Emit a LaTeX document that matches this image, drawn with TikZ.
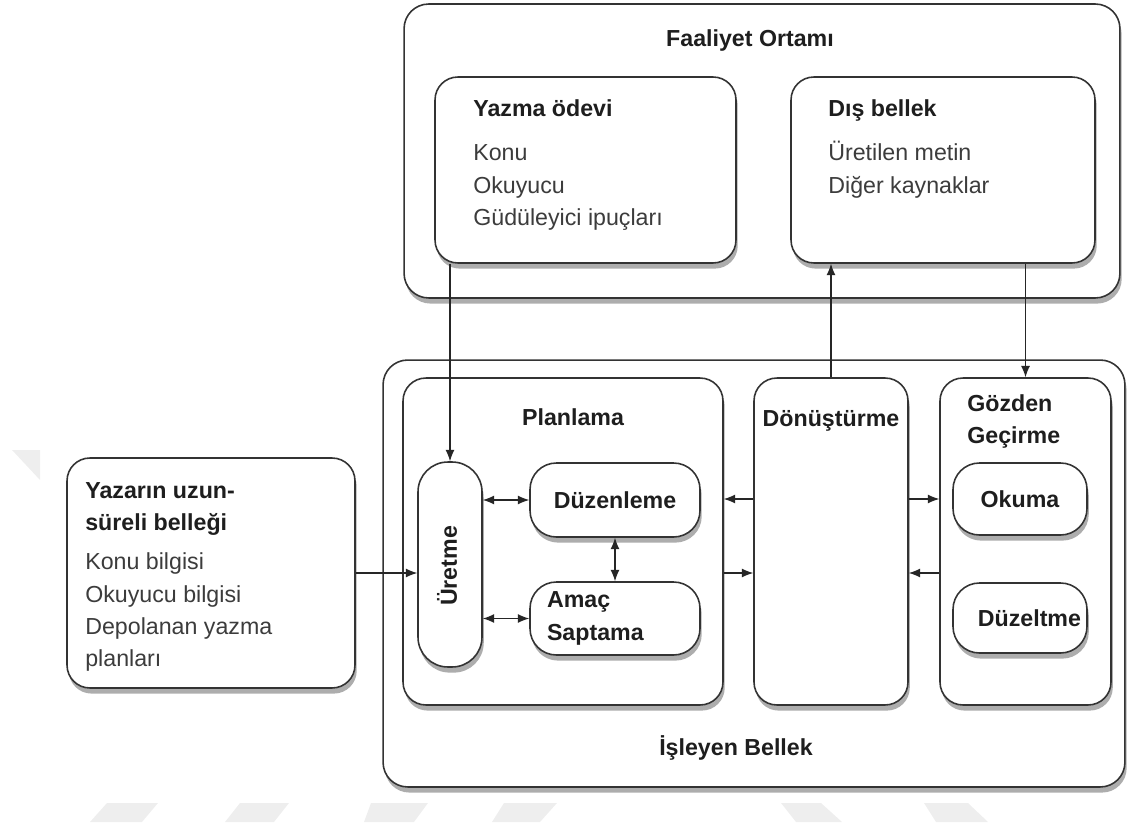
\documentclass[tikz,border=0pt]{standalone}
\usepackage{fontspec}
\setmainfont{Liberation Sans}
\usepackage{xcolor}
\usetikzlibrary{positioning, arrows.meta, shadows}
\definecolor{headc}{HTML}{1E1E1E}
\definecolor{bodyc}{HTML}{3C3C3C}
\definecolor{linec}{HTML}{333333}
\definecolor{wmgray}{HTML}{EEEEEE}
\newcommand\boxfont{\fontsize{13.2}{18.4}\selectfont}
\newcommand\boxhead[1]{\textbf{\textcolor{headc}{#1}}}
\tikzset{
    panel/.style={rectangle, rounded corners=14pt, draw=linec, line width=0.9pt, fill=white,
        drop shadow={shadow xshift=1pt, shadow yshift=-3.2pt, fill=black!40, opacity=0.8}},
    sub/.style={panel, rounded corners=13pt},
    pill/.style={panel, rounded corners=15pt, font=\boxfont\bfseries, text=headc, align=center},
    heading/.style={font=\boxfont\bfseries, text=headc, inner sep=0pt, anchor=base},
    items/.style={font=\boxfont, text=bodyc, align=left, inner sep=0pt, anchor=north west},
    arrow/.style={-{Latex[length=6.5pt,width=5.2pt]}, line width=0.7pt, draw=black!85},
    darrow/.style={{Latex[length=6.5pt,width=5.2pt]}-{Latex[length=6.5pt,width=5.2pt]}, line width=0.7pt, draw=black!85},
    wmark/.style={fill=wmgray, draw=none}
}
\begin{document}
\begin{tikzpicture}[x=0.02cm, y=-0.02cm]
        \useasboundingbox (0,0) rectangle (1129,824);
        % Watermark
        \fill[wmark] (12,450) -- (40,450) -- (40,480) -- cycle;
        \fill[wmark] (107,803) -- (158,803) -- (142,822) -- (90,822) -- cycle;
        \fill[wmark] (240,803) -- (289,803) -- (274,822) -- (225,822) -- cycle;
        \fill[wmark] (371,803) -- (428,803) -- (414,822) -- (364,822) -- cycle;
        \fill[wmark] (504,803) -- (557,803) -- (540,822) -- (492,822) -- cycle;
        \fill[wmark] (781,803) -- (821,803) -- (842,822) -- (796,822) -- cycle;
        \fill[wmark] (924,803) -- (968,803) -- (988,822) -- (936,822) -- cycle;

        % Faaliyet Ortami
        \node[panel, minimum width=14.32cm, minimum height=5.88cm] (Faal) at (762,151) {};
        \node[heading] (FaalT) at (750,47) {Faaliyet Ortamı};
        \node[sub, minimum width=6.02cm, minimum height=3.72cm] (Yazma) at (585.5,170) {};
        \node[items] (YazmaT) at (473,99) {\boxhead{Yazma ödevi}\\[7pt]Konu\\Okuyucu\\Güdüleyici ipuçları};
        \node[sub, minimum width=6.08cm, minimum height=3.72cm] (Dis) at (943,170) {};
        \node[items] (DisT) at (828,99) {\boxhead{Dış bellek}\\[7pt]Üretilen metin\\Diğer kaynaklar};

        % Isleyen Bellek
        \node[panel, minimum width=14.84cm, minimum height=8.54cm] (Isleyen) at (754,573.5) {};
        \node[heading] (IsleyenT) at (736,755) {İşleyen Bellek};

        % Planlama
        \node[sub, minimum width=6.4cm, minimum height=6.54cm] (Plan) at (563,541.5) {};
        \node[heading] (PlanT) at (573,425.5) {Planlama};
        \node[sub, rounded corners=17pt, minimum width=1.28cm, minimum height=4.1cm] (Uret) at (450,564.5) {};
        \node[heading, anchor=center, rotate=90] (UretT) at (447,566) {Üretme};
        \node[pill, minimum width=3.4cm, minimum height=1.48cm] (Duzen) at (615,500) {Düzenleme};
        \node[pill, minimum width=3.4cm, minimum height=1.46cm, text width=2.72cm, align=left] (Amac) at (615,618.5) {Amaç\\Saptama};

        % Donusturme
        \node[sub, minimum width=3.08cm, minimum height=6.54cm] (Donus) at (831,541.5) {};
        \node[heading] (DonusT) at (831,426.5) {Dönüştürme};

        % Gozden Gecirme
        \node[sub, minimum width=3.42cm, minimum height=6.54cm] (Gozden) at (1025.5,541.5) {};
        \node[items, font=\boxfont\bfseries, text=headc] (GozdenT) at (967,394) {Gözden\\Geçirme};
        \node[pill, minimum width=2.68cm, minimum height=1.44cm] (Okuma) at (1020,499) {Okuma};
        \node[pill, minimum width=2.68cm, minimum height=1.4cm, text width=2.44cm, inner xsep=1pt, align=right] (Duzelt) at (1020,618) {Düzeltme};

        % Yazarin uzun-sureli bellegi
        \node[sub, minimum width=5.76cm, minimum height=4.6cm] (Yazar) at (211,573) {};
        \node[items] (YazarT) at (85,482) {\boxhead{Yazarın uzun-}\\\boxhead{süreli belleği}\\[4pt]Konu bilgisi\\Okuyucu bilgisi\\Depolanan yazma\\planları};

        % Connections
        \draw[arrow] (Uret.north |- Yazma.south) -- (Uret.north);
        \draw[arrow] (Donus.north) -- (Donus.north |- Dis.south);
        \draw[arrow] (Gozden.north |- Dis.south) -- (Gozden.north);
        \draw[arrow] (Yazar.east) -- (Yazar.east -| Uret.west);

        \draw[darrow] (Duzen.west -| Uret.east) -- (Duzen.west);
        \draw[darrow] (Amac.west -| Uret.east) -- (Amac.west);
        \draw[darrow] (Duzen.south) -- (Amac.north);

        \draw[arrow] (Donus.west |- Okuma.west) -- (Plan.east |- Okuma.west);
        \draw[arrow] (Plan.east |- Yazar.east) -- (Donus.west |- Yazar.east);
        \draw[arrow] (Donus.east |- Okuma.west) -- (Gozden.west |- Okuma.west);
        \draw[arrow] (Gozden.west |- Yazar.east) -- (Donus.east |- Yazar.east);

    \end{tikzpicture}
\end{document}
